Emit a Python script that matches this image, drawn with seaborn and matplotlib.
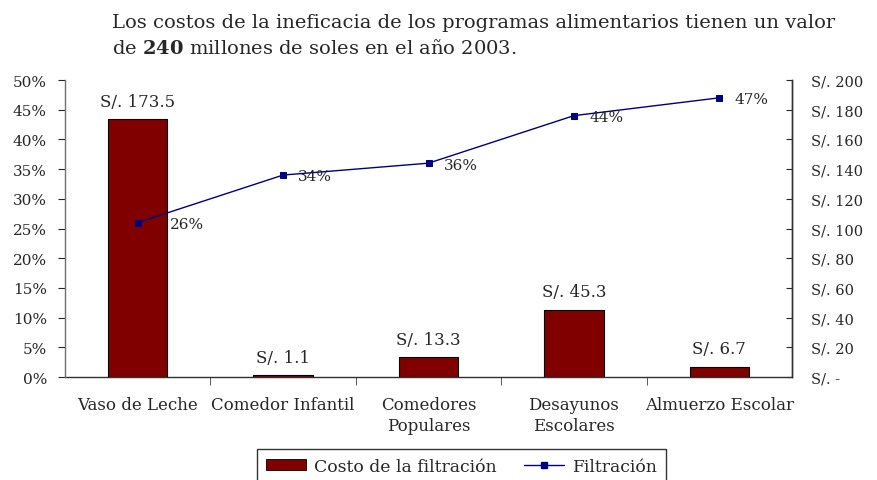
import numpy as np
import pandas as pd
import matplotlib
matplotlib.use("Agg")
import matplotlib.pyplot as plt
import seaborn as sns
from matplotlib.ticker import FuncFormatter, FixedLocator
from matplotlib.patches import Patch
from matplotlib.lines import Line2D

# data
programas = ["Vaso de Leche", "Comedor Infantil", "Comedores\nPopulares",
             "Desayunos\nEscolares", "Almuerzo Escolar"]
costo = [173.5, 1.1, 13.3, 45.3, 6.7]          # millones de soles
filtracion = [26, 34, 36, 44, 47]               # %

df = pd.DataFrame({"programa": programas, "costo": costo, "filtracion": filtracion})

sns.set_style("white")
plt.rcParams["font.family"] = ["DejaVu Serif"]
plt.rcParams["mathtext.fontset"] = "dejavuserif"

BAR_W = 0.41

fig = plt.figure(figsize=(8.77, 4.81), dpi=100)
ax = fig.add_axes([0.0741, 0.2141, 0.829, 0.6175])
ax2 = ax.twinx()

# bars (costo) on the primary axis, ticks shown on the right
sns.barplot(data=df, x="programa", y="costo", ax=ax, color="#800000",
            saturation=1, width=BAR_W, edgecolor="black", linewidth=0.8)
ax.set_ylim(0, 200)
ax.set_xlim(-0.5, len(programas) - 0.5)
ax.set_xlabel("")
ax.set_ylabel("")

for i, c in enumerate(costo):
    ax.annotate(f"S/. {c}", (i, c), xytext=(0, 7), textcoords="offset points",
                ha="center", va="bottom", fontsize=12)

# line (filtracion) on the twin axis
sns.pointplot(data=df, x="programa", y="filtracion", ax=ax2, color="#000080",
              markers="s", markersize=5, linewidth=1)
ax2.set_ylim(0, 50)
ax2.set_xlim(-0.5, len(programas) - 0.5)
ax2.set_xlabel("")
ax2.set_ylabel("")

# percent labels: right of the point, pushed past the bar when it covers the point
for i, (f, c) in enumerate(zip(filtracion, costo)):
    covered = c / 200 * 50 > f
    x0 = i + BAR_W / 2 if covered else i
    dx = 1.5 if covered else 11
    ax2.annotate(f"{f}%", (x0, f), xytext=(dx, -1), textcoords="offset points",
                 ha="left", va="center", fontsize=11)

# y axes: soles on the right, percent on the left
ax.yaxis.tick_right()
ax.set_yticks(np.arange(0, 201, 20))
ax.yaxis.set_major_formatter(FuncFormatter(lambda v, p: "S/. -" if v == 0 else f"S/. {v:.0f}"))
ax.tick_params(axis="y", direction="in", length=4, pad=14, labelsize=10.5,
               right=True, left=False, labelright=True, labelleft=False)

ax2.yaxis.tick_left()
ax2.set_yticks(np.arange(0, 51, 5))
ax2.yaxis.set_major_formatter(FuncFormatter(lambda v, p: f"{v:.0f}%"))
ax2.tick_params(axis="y", direction="out", length=5, pad=8, labelsize=11,
                left=True, right=False, labelleft=True, labelright=False)

# x axis: labels centred, ticks at category boundaries
ax.set_xticks(range(len(programas)))
ax.set_xticklabels(programas, fontsize=12, linespacing=1.3)
ax.xaxis.set_minor_locator(FixedLocator(np.arange(0.5, len(programas) - 0.5, 1)))
ax.tick_params(axis="x", which="major", length=0, pad=14)
ax.tick_params(axis="x", which="minor", length=6, color="#404040", bottom=True)

for a in (ax, ax2):
    a.spines["top"].set_visible(False)
    for s in ("left", "right", "bottom"):
        a.spines[s].set_color("#303030")
        a.spines[s].set_linewidth(1)
ax.spines["left"].set_visible(False)
ax2.spines["bottom"].set_visible(False)
ax2.spines["left"].set_color("#707070")

fig.text(112 / 877, 1 - 28 / 481,
         "Los costos de la ineficacia de los programas alimentarios tienen un valor",
         ha="left", va="baseline", fontsize=14)
fig.text(112 / 877, 1 - 54 / 481,
         "de $\\mathbf{240}$ millones de soles en el año 2003.",
         ha="left", va="baseline", fontsize=14)

handles = [Patch(facecolor="#800000", edgecolor="black", linewidth=0.6),
           Line2D([], [], color="#000080", marker="s", markersize=5, linewidth=1)]
leg = fig.legend(handles, ["Costo de la filtración", "Filtración"], ncol=2,
                 loc="upper center", bbox_to_anchor=(461.5 / 877, 1 - 450 / 481),
                 borderaxespad=0, fontsize=12.4, frameon=True, fancybox=False,
                 edgecolor="black", handlelength=2.33, handleheight=0.55,
                 columnspacing=1.57, borderpad=0.5, handletextpad=0.47)
leg.get_frame().set_linewidth(1)

fig.savefig("out.png", dpi=100)
